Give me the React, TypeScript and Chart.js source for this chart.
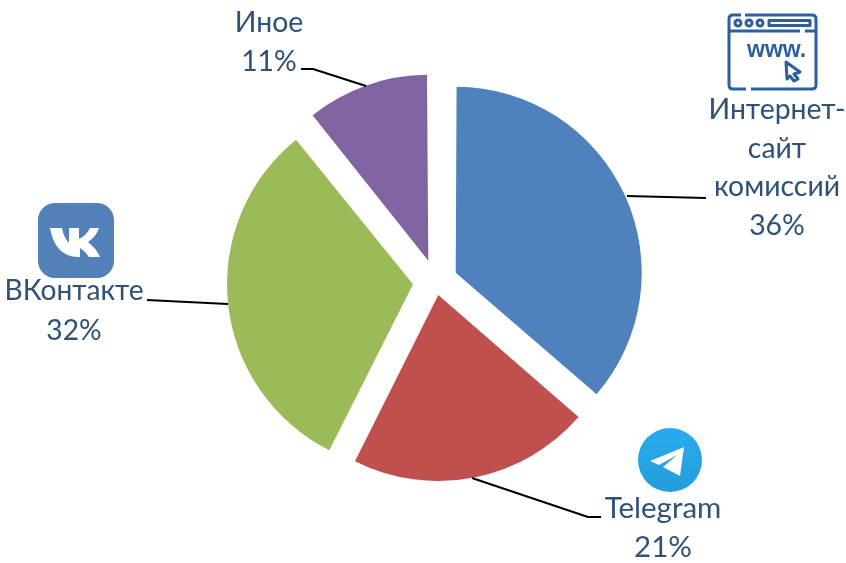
import React, { useEffect, useRef } from "react";
import { Chart, registerables } from "chart.js";

Chart.register(...registerables);

const categories = ["Интернет-сайт комиссий", "Telegram", "ВКонтакте", "Иное"];
const shares = [36.4, 21.0, 31.8, 10.8];
const colours = ["#4F81BD", "#C0504D", "#9BBB59", "#8064A2"];
// Chart.js draws an arc's offset at a quarter of the option's value.
const sliceOffsets = [88, 53.6, 91.2, 88.8];
const RADIUS = 186;

const labelLines = [
  ["Интернет-", "сайт", "комиссий"],
  ["Telegram"],
  ["ВКонтакте"],
  ["Иное"],
];
const labelLayout = [
  { x: 777, y: 119, step: 38.6, size: 28.4 },
  { x: 663, y: 518, step: 38.5, size: 29.5 },
  { x: 74, y: 300, step: 39.5, size: 28.2 },
  { x: 269, y: 32, step: 38.5, size: 28.4 },
];
const leaders = [
  [[627, 196], [706, 198]],
  [[472, 478], [588, 517], [601, 517]],
  [[147, 300], [228, 304]],
  [[301, 69], [313, 69], [366, 86]],
];

const TEXT = "#2F5078";

function drawVk(ctx: CanvasRenderingContext2D) {
  ctx.fillStyle = "#5181B8";
  ctx.beginPath();
  ctx.roundRect(38, 203, 76, 75, 17);
  ctx.fill();
  ctx.fillStyle = "#fff";
  ctx.beginPath();
  ctx.moveTo(50, 228);
  ctx.lineTo(62, 228);
  ctx.quadraticCurveTo(64, 238, 69, 243);
  ctx.lineTo(69, 228);
  ctx.lineTo(79, 228);
  ctx.lineTo(79, 239);
  ctx.quadraticCurveTo(86, 236, 90, 228);
  ctx.lineTo(99, 228);
  ctx.quadraticCurveTo(96, 237, 88, 242);
  ctx.quadraticCurveTo(96, 248, 100, 257);
  ctx.lineTo(89, 257);
  ctx.quadraticCurveTo(85, 251, 80, 248);
  ctx.lineTo(80, 257);
  ctx.lineTo(77, 257);
  ctx.quadraticCurveTo(55, 256, 50, 228);
  ctx.closePath();
  ctx.fill();
}

function drawTelegram(ctx: CanvasRenderingContext2D) {
  const g = ctx.createLinearGradient(0, 428, 0, 492);
  g.addColorStop(0, "#2AABEE");
  g.addColorStop(1, "#229ED9");
  ctx.fillStyle = g;
  ctx.beginPath();
  ctx.arc(670, 460, 32, 0, Math.PI * 2);
  ctx.fill();
  ctx.fillStyle = "#fff";
  ctx.beginPath();
  ctx.moveTo(650, 461);
  ctx.lineTo(684, 447);
  ctx.lineTo(680, 476);
  ctx.lineTo(663, 467);
  ctx.lineTo(677, 455);
  ctx.lineTo(659, 465);
  ctx.closePath();
  ctx.fill();
}

function drawWww(ctx: CanvasRenderingContext2D) {
  ctx.strokeStyle = "#2B5F9E";
  ctx.fillStyle = "#2B5F9E";
  ctx.lineWidth = 3;
  ctx.beginPath();
  ctx.moveTo(741, 15);
  ctx.lineTo(733, 15);
  ctx.quadraticCurveTo(729, 15, 729, 19);
  ctx.lineTo(729, 85);
  ctx.quadraticCurveTo(729, 89, 733, 89);
  ctx.lineTo(746, 89);
  ctx.moveTo(751, 89);
  ctx.lineTo(812, 89);
  ctx.quadraticCurveTo(816, 89, 816, 85);
  ctx.lineTo(816, 19);
  ctx.quadraticCurveTo(816, 15, 812, 15);
  ctx.lineTo(745, 15);
  ctx.moveTo(729, 31);
  ctx.lineTo(800, 31);
  ctx.moveTo(805, 31);
  ctx.lineTo(816, 31);
  ctx.stroke();
  for (const cx of [738, 749, 760]) {
    ctx.beginPath();
    ctx.arc(cx, 23, 3, 0, Math.PI * 2);
    ctx.stroke();
  }
  ctx.strokeRect(769, 20.5, 41, 5);
  ctx.font = 'bold 23px "Liberation Sans", sans-serif';
  ctx.textAlign = "left";
  ctx.textBaseline = "alphabetic";
  ctx.fillText("www.", 747, 57);
  ctx.beginPath();
  ctx.moveTo(786, 62);
  ctx.lineTo(800, 72);
  ctx.lineTo(794, 74);
  ctx.lineTo(798, 79);
  ctx.lineTo(794, 81);
  ctx.lineTo(790, 76);
  ctx.lineTo(787, 79);
  ctx.closePath();
  ctx.stroke();
}

// Chart.js grows an offset arc's radius by offset/4 * (1 - sin(circumference));
// take that back so that every slice keeps the same radius.
const equalRadius = {
  id: "equalRadius",
  beforeDatasetDraw(chart: Chart, args: any) {
    chart.getDatasetMeta(args.index).data.forEach((el: any, i: number) => {
      const growth =
        (sliceOffsets[i] / 4) * (1 - Math.sin(Math.min(Math.PI, el.circumference || 0)));
      el.outerRadius = RADIUS - growth;
    });
  },
};

const annotations = {
  id: "annotations",
  afterDraw(chart: Chart) {
    const ctx = chart.ctx;
    ctx.save();
    ctx.strokeStyle = "#000";
    ctx.lineWidth = 2;
    ctx.lineJoin = "round";
    for (const pts of leaders) {
      ctx.beginPath();
      pts.forEach(([x, y], i) => (i ? ctx.lineTo(x, y) : ctx.moveTo(x, y)));
      ctx.stroke();
    }
    drawVk(ctx);
    drawTelegram(ctx);
    drawWww(ctx);
    ctx.fillStyle = TEXT;
    ctx.textAlign = "center";
    ctx.textBaseline = "alphabetic";
    labelLines.forEach((lines, i) => {
      const l = labelLayout[i];
      ctx.font = `${l.size}px Lato, "Open Sans", sans-serif`;
      const all = [...lines, `${Math.round(shares[i])}%`];
      all.forEach((t, j) => ctx.fillText(t, l.x, l.y + j * l.step));
    });
    ctx.restore();
  },
};

export default function App() {
  const ref = useRef<HTMLCanvasElement>(null);
  useEffect(() => {
    const chart = new Chart(ref.current!, {
      type: "pie",
      data: {
        labels: categories,
        datasets: [
          {
            data: shares,
            backgroundColor: colours,
            borderWidth: 0,
            offset: sliceOffsets,
          },
        ],
      },
      options: {
        animation: false,
        responsive: false,
        radius: RADIUS,
        layout: { padding: { left: 25.4, right: 0, top: 0.6, bottom: 0 } },
        plugins: { legend: { display: false }, tooltip: { enabled: false } },
      } as any,
      plugins: [equalRadius, annotations],
    });
    return () => chart.destroy();
  }, []);
  return (
    <div style={{ position: "absolute", left: 0, top: 0, width: 846, height: 563 }}>
      <canvas ref={ref} width={846} height={563} style={{ display: "block" }} />
    </div>
  );
}
